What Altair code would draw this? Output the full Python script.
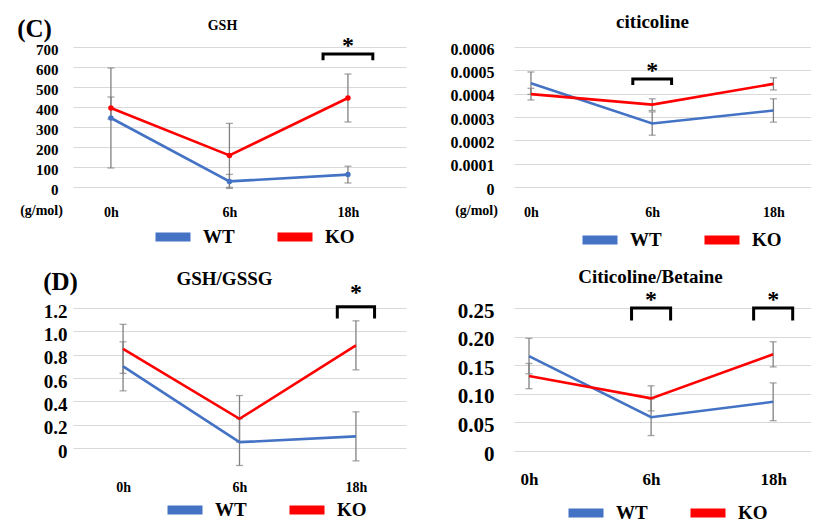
import altair as alt
import pandas as pd

times = ["0h", "6h", "18h"]
groups = ["WT", "KO"]
colors = ["#4472C4", "#FF0000"]

# Panel (C) GSH
gsh_wt = [345, 28, 62]
gsh_wt_err = [250, 35, 42]
gsh_ko = [395, 158, 445]
gsh_ko_err = [55, 160, 120]
gsh_ticks = [0, 100, 200, 300, 400, 500, 600, 700]
gsh_sig_times = ["18h"]
gsh_sig_top = [665]
gsh_sig_foot = [634]

# citicoline
cit_wt = [0.000445, 0.000272, 0.000328]
cit_wt_err = [0.000048, 0.00005, 0.00005]
cit_ko = [0.000398, 0.000353, 0.000442]
cit_ko_err = [0.000025, 0.000025, 0.000026]
cit_ticks = [0, 0.0001, 0.0002, 0.0003, 0.0004, 0.0005, 0.0006]
cit_sig_times = ["6h"]
cit_sig_top = [0.000463]
cit_sig_foot = [0.000437]

# Panel (D) GSH/GSSG
rat_wt = [0.70, 0.05, 0.10]
rat_wt_err = [0.21, 0.20, 0.21]
rat_ko = [0.85, 0.25, 0.88]
rat_ko_err = [0.21, 0.20, 0.21]
rat_ticks = [0, 0.2, 0.4, 0.6, 0.8, 1.0, 1.2]
rat_sig_times = ["18h"]
rat_sig_top = [1.21]
rat_sig_foot = [1.11]

# Citicoline/Betaine
cb_wt = [0.166, 0.059, 0.086]
cb_wt_err = [0.031, 0.032, 0.033]
cb_ko = [0.131, 0.092, 0.169]
cb_ko_err = [0.022, 0.022, 0.022]
cb_ticks = [0, 0.05, 0.10, 0.15, 0.20, 0.25]
cb_sig_times = ["6h", "18h"]
cb_sig_top = [0.25, 0.25]
cb_sig_foot = [0.228, 0.228]

SERIF = "Liberation Serif"


def panel(title, wt, wt_err, ko, ko_err, ticks, sig_times, sig_top, sig_foot, *,
          width, height, xdom, title_size, title_dx, title_offset,
          ylab_size, ylab_pad, ylab_expr, ylab_off, xlab_size, xlab_pad,
          letter=None, letter_xy=(0, 0), unit=None, unit_xy=(0, 0),
          legend_xy=(0, 0), markers=False, half=0.16, star_dy=-1):
    rows = []
    for g, vals, errs in (("WT", wt, wt_err), ("KO", ko, ko_err)):
        for i, t in enumerate(times):
            rows.append(dict(group=g, x=i, value=vals[i],
                             lo=vals[i] - errs[i], hi=vals[i] + errs[i]))
    df = pd.DataFrame(rows)

    br = []
    for k, (t, top, foot) in enumerate(zip(sig_times, sig_top, sig_foot)):
        c = times.index(t)
        pts = [(c - half, foot), (c - half, top), (c + half, top), (c + half, foot)]
        for j, (xx, yy) in enumerate(pts):
            br.append(dict(b=k, o=j, x=xx, y=yy))
    bdf = pd.DataFrame(br)
    sdf = pd.DataFrame(dict(x=[times.index(t) for t in sig_times], y=sig_top))

    x_axis = alt.Axis(values=[0, 1, 2], labelExpr=f"{times}[datum.value]",
                      grid=False, domain=False, ticks=False,
                      labelFont=SERIF, labelFontWeight="bold", labelColor="black",
                      labelFontSize=xlab_size, labelPadding=xlab_pad,
                      title=unit if unit else None,
                      titleX=unit_xy[0], titleY=unit_xy[1], titleAlign="center",
                      titleBaseline="middle", titleFont=SERIF, titleFontWeight="bold",
                      titleFontSize=14, titleColor="black")
    y_axis = alt.Axis(values=ticks, labelExpr=ylab_expr, grid=True,
                      gridColor="#d9d9d9", gridWidth=1.2, domain=False, ticks=False,
                      labelFont=SERIF, labelFontWeight="bold", labelColor="black",
                      labelFontSize=ylab_size, labelPadding=ylab_pad,
                      labelOffset=ylab_off,
                      title=letter if letter else None, titleAngle=0,
                      titleX=letter_xy[0], titleY=letter_xy[1], titleAlign="center",
                      titleBaseline="middle", titleFont=SERIF, titleFontWeight="bold",
                      titleFontSize=25, titleColor="black")
    xsc = alt.Scale(domain=xdom, nice=False, zero=False)
    ysc = alt.Scale(domain=[ticks[0], ticks[-1]], nice=False, zero=False)

    def X(f):
        return alt.X(f"{f}:Q", scale=xsc, axis=x_axis)

    def Y(f):
        return alt.Y(f"{f}:Q", scale=ysc, axis=y_axis)

    color = alt.Color("group:N", scale=alt.Scale(domain=groups, range=colors),
                      legend=alt.Legend(title=None, orient="none",
                                        legendX=legend_xy[0], legendY=legend_xy[1],
                                        direction="horizontal", symbolType="stroke",
                                        symbolSize=1225, symbolStrokeWidth=9,
                                        labelFont=SERIF, labelFontSize=19,
                                        labelFontWeight="bold", labelColor="black",
                                        labelOffset=8, columnPadding=24))

    base = alt.Chart(df)
    err = base.mark_rule(color="#808080", strokeWidth=1.3).encode(x=X("x"), y=Y("lo"), y2="hi")
    cap_lo = base.mark_tick(color="#808080", orient="horizontal", size=7, thickness=1.3).encode(x=X("x"), y=Y("lo"))
    cap_hi = base.mark_tick(color="#808080", orient="horizontal", size=7, thickness=1.3).encode(x=X("x"), y=Y("hi"))
    lines = base.mark_line(strokeWidth=2.6).encode(x=X("x"), y=Y("value"), color=color, detail="group:N")
    layers = [err, cap_lo, cap_hi, lines]
    if markers:
        layers.append(base.mark_circle(size=30, opacity=1).encode(x=X("x"), y=Y("value"), color=color))
    brk = alt.Chart(bdf).mark_line(color="black", strokeWidth=3).encode(
        x=X("x"), y=Y("y"), detail="b:N", order="o:Q")
    star = alt.Chart(sdf).mark_text(text="*", font=SERIF, fontWeight="bold", fontSize=24,
                                    baseline="alphabetic", dy=star_dy, color="black").encode(
        x=X("x"), y=Y("y"))
    layers += [brk, star]
    return alt.layer(*layers).properties(
        width=width, height=height,
        title=alt.TitleParams(title, font=SERIF, fontWeight="bold", fontSize=title_size,
                              color="black", anchor="middle", offset=title_offset, dx=title_dx))


c_panel = panel("GSH", gsh_wt, gsh_wt_err, gsh_ko, gsh_ko_err, gsh_ticks,
                gsh_sig_times, gsh_sig_top, gsh_sig_foot,
                width=333, height=140, xdom=[-0.32, 2.49], title_size=14, title_dx=-17,
                title_offset=-17, ylab_size=15, ylab_pad=15, ylab_expr="format(datum.value, 'd')",
                ylab_off=2, xlab_size=14, xlab_pad=18, letter="(C)", letter_xy=(-39, -19),
                unit="(g/mol)", unit_xy=(-32, 23), legend_xy=(78, 168), markers=True, half=0.21)

cit_panel = panel("citicoline", cit_wt, cit_wt_err, cit_ko, cit_ko_err, cit_ticks,
                  cit_sig_times, cit_sig_top, cit_sig_foot,
                  width=297, height=140, xdom=[-0.14, 2.31], title_size=19, title_dx=-10,
                  title_offset=9, ylab_size=16, ylab_pad=20,
                  ylab_expr="datum.value == 0 ? '0' : format(datum.value, '.4f')",
                  ylab_off=2, xlab_size=14, xlab_pad=18,
                  unit="(g/mol)", unit_xy=(-38, 23), legend_xy=(64, 171))

d_panel = panel("GSH/GSSG", rat_wt, rat_wt_err, rat_ko, rat_ko_err, rat_ticks,
                rat_sig_times, rat_sig_top, rat_sig_foot,
                width=333, height=140, xdom=[-0.43, 2.43], title_size=19, title_dx=-15,
                title_offset=-20, ylab_size=19, ylab_pad=6,
                ylab_expr="datum.value == 0 ? '0' : format(datum.value, '.1f')",
                ylab_off=3, xlab_size=14, xlab_pad=32, letter="(D)", letter_xy=(-13, -27),
                legend_xy=(90, 180), star_dy=-7)

cb_panel = panel("Citicoline/Betaine", cb_wt, cb_wt_err, cb_ko, cb_ko_err, cb_ticks,
                 cb_sig_times, cb_sig_top, cb_sig_foot,
                 width=297, height=143, xdom=[-0.123, 2.31], title_size=19, title_dx=-12,
                 title_offset=1, ylab_size=21, ylab_pad=20,
                 ylab_expr="datum.value == 0 ? '0' : format(datum.value, '.2f')",
                 ylab_off=3, xlab_size=17, xlab_pad=20, legend_xy=(50, 183))

chart = alt.concat(
    c_panel, cit_panel, d_panel, cb_panel,
    columns=2, spacing={"row": 121, "column": 108}, bounds="flush",
).resolve_scale(
    color="independent"
).properties(
    padding={"left": 8, "top": 5, "right": 0, "bottom": 0},
    background="white",
).configure_view(stroke=None)

chart.save("out.html", embed_options={"renderer": "svg", "actions": False})
